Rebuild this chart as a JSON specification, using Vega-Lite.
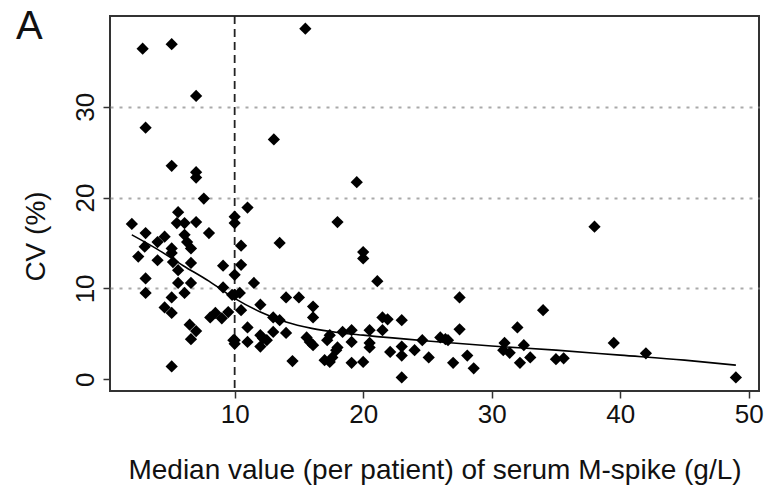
{
  "$schema": "https://vega.github.io/schema/vega-lite/v6.json",
  "width": 649,
  "height": 375,
  "autosize": "none",
  "padding": {"left": 110, "top": 16, "right": 6, "bottom": 96},
  "background": "white",
  "config": {
    "font": "Liberation Sans",
    "view": {"stroke": "#333", "strokeWidth": 2}
  },
  "title": {
    "text": "A",
    "anchor": "start",
    "frame": "group",
    "fontSize": 40,
    "fontWeight": "normal",
    "color": "#111",
    "baseline": "alphabetic",
    "offset": -64,
    "dx": -94
  },
  "datasets": {
    "pts": [
      {"x":2.0,"y":17.1},{"x":2.84,"y":36.4},{"x":5.1,"y":36.9},{"x":3.07,"y":27.7},{"x":7.0,"y":31.2},{"x":5.1,"y":23.5},{"x":7.0,"y":22.8},{"x":7.0,"y":22.2},{"x":7.6,"y":19.9},{"x":3.07,"y":16.1},{"x":3.0,"y":14.6},{"x":2.5,"y":13.5},{"x":3.07,"y":11.1},{"x":3.07,"y":9.5},{"x":4.0,"y":15.1},{"x":4.55,"y":15.7},{"x":4.0,"y":13.1},{"x":5.1,"y":14.4},{"x":5.1,"y":13.9},{"x":5.2,"y":12.9},{"x":5.6,"y":12.0},{"x":5.6,"y":10.6},{"x":5.1,"y":9.0},{"x":4.55,"y":7.9},{"x":5.1,"y":7.3},{"x":5.6,"y":18.4},{"x":5.5,"y":17.2},{"x":6.1,"y":17.2},{"x":7.0,"y":17.3},{"x":6.1,"y":15.9},{"x":6.3,"y":15.1},{"x":6.6,"y":14.4},{"x":8.0,"y":16.1},{"x":6.6,"y":12.8},{"x":6.6,"y":10.6},{"x":6.1,"y":9.5},{"x":6.5,"y":6.0},{"x":7.0,"y":5.3},{"x":6.6,"y":4.4},{"x":5.1,"y":1.4},{"x":9.1,"y":12.5},{"x":9.1,"y":10.1},{"x":8.1,"y":6.8},{"x":8.5,"y":7.3},{"x":9.0,"y":6.7},{"x":9.5,"y":7.4},{"x":9.8,"y":9.3},{"x":9.9,"y":4.3},
      {"x":10.0,"y":17.9},{"x":10.0,"y":17.2},{"x":11.0,"y":18.9},{"x":10.5,"y":14.7},{"x":10.5,"y":12.6},{"x":10.0,"y":11.5},{"x":11.5,"y":10.6},{"x":10.4,"y":9.5},{"x":10.0,"y":9.3},{"x":10.5,"y":7.6},{"x":10.0,"y":4.3},{"x":10.0,"y":3.9},{"x":11.0,"y":4.1},{"x":11.0,"y":5.7},{"x":12.0,"y":8.2},{"x":13.0,"y":6.8},{"x":13.5,"y":6.5},{"x":13.0,"y":5.2},{"x":12.0,"y":4.85},{"x":12.5,"y":4.3},{"x":12.0,"y":3.6},{"x":12.2,"y":4.5},{"x":14.0,"y":5.1},{"x":14.5,"y":2.0},{"x":13.5,"y":15.0},{"x":13.05,"y":26.4},{"x":15.5,"y":38.6},{"x":14.0,"y":9.0},{"x":15.0,"y":9.0},{"x":16.1,"y":8.0},{"x":16.1,"y":6.8},{"x":15.6,"y":4.6},{"x":16.1,"y":3.75},{"x":15.85,"y":4.1},{"x":17.2,"y":4.3},{"x":17.4,"y":4.85},{"x":17.0,"y":2.1},{"x":17.4,"y":1.9},{"x":17.6,"y":2.4},{"x":17.9,"y":3.2},{"x":18.0,"y":3.5},{"x":18.0,"y":17.3},{"x":18.4,"y":5.2},{"x":19.1,"y":5.4},{"x":19.1,"y":4.1},{"x":19.1,"y":1.8},{"x":20.0,"y":1.9},{"x":19.5,"y":21.7},{"x":20.0,"y":14.0},{"x":20.0,"y":13.3},{"x":20.5,"y":5.4},{"x":20.5,"y":4.0},{"x":20.5,"y":3.5},{"x":21.1,"y":10.8},{"x":21.5,"y":6.8},{"x":21.9,"y":6.6},{"x":21.5,"y":5.4},{"x":23.0,"y":6.5},{"x":22.1,"y":3.0},{"x":23.0,"y":3.6},{"x":23.0,"y":2.6},{"x":23.0,"y":0.2},{"x":24.0,"y":3.2},{"x":24.6,"y":4.3},{"x":25.1,"y":2.4},{"x":26.0,"y":4.6},{"x":26.4,"y":4.4},{"x":26.6,"y":4.3},{"x":27.5,"y":5.5},{"x":27.5,"y":9.0},{"x":27.0,"y":1.8},{"x":28.1,"y":2.6},{"x":28.6,"y":1.2},{"x":31.0,"y":4.0},{"x":30.9,"y":3.2},{"x":31.4,"y":2.9},{"x":32.0,"y":5.7},{"x":34.0,"y":7.6},{"x":32.5,"y":3.75},{"x":33.0,"y":2.4},{"x":32.2,"y":1.8},{"x":35.0,"y":2.2},{"x":35.6,"y":2.3},{"x":38.0,"y":16.8},{"x":39.5,"y":4.0},{"x":42.0,"y":2.85},{"x":49.0,"y":0.2}
    ],
    "lowess": [
      {"x":2.0,"y":15.9},{"x":4.0,"y":14.3},{"x":6.0,"y":12.5},{"x":8.0,"y":10.8},{"x":10.0,"y":8.9},{"x":12.0,"y":7.4},{"x":14.0,"y":6.3},{"x":16.0,"y":5.6},{"x":18.0,"y":5.15},{"x":20.0,"y":4.85},{"x":25.0,"y":4.2},{"x":30.0,"y":3.65},{"x":35.0,"y":3.2},{"x":40.0,"y":2.65},{"x":45.0,"y":2.1},{"x":49.0,"y":1.55}
    ],
    "ref": [{"x": 10}]
  },
  "layer": [
    {
      "data": {"name": "ref"},
      "mark": {"type": "rule", "stroke": "#222", "strokeWidth": 1.8, "strokeDash": [8, 5]},
      "encoding": {
        "x": {"field": "x", "type": "quantitative", "scale": {"domain": [0.3, 50.8], "nice": false, "zero": false}}
      }
    },
    {
      "data": {"name": "pts"},
      "mark": {"type": "point", "shape": "diamond", "filled": true, "color": "#000", "opacity": 1, "size": 150},
      "encoding": {
        "x": {
          "field": "x", "type": "quantitative",
          "scale": {"domain": [0.3, 50.8], "nice": false, "zero": false},
          "axis": {
            "values": [10, 20, 30, 40, 50],
            "title": "Median value (per patient) of serum M-spike (g/L)",
            "grid": false, "domain": false,
            "tickSize": 7, "tickColor": "#333", "tickWidth": 1.5,
            "labelFontSize": 26, "labelColor": "#111", "labelPadding": 3, "labelFlush": false,
            "labelBaseline": "top",
            "titleFontSize": 28, "titleFontWeight": "normal", "titleColor": "#111",
            "titleY": 87, "titleBaseline": "alphabetic"
          }
        },
        "y": {
          "field": "y", "type": "quantitative",
          "scale": {"domain": [-1.3, 40], "nice": false, "zero": false},
          "axis": {
            "values": [0, 10, 20, 30],
            "title": "CV (%)",
            "grid": true, "gridColor": "#aaaaaa", "gridDash": [3, 6], "gridWidth": 1.8,
            "gridOpacity": {"condition": {"test": "datum.value === 0", "value": 0}, "value": 1},
            "domain": false,
            "tickSize": 7, "tickColor": "#333", "tickWidth": 1.5,
            "labelAngle": -90, "labelAlign": "center", "labelBaseline": "alphabetic",
            "labelFontSize": 26, "labelColor": "#111", "labelPadding": 10,
            "titleFontSize": 28, "titleFontWeight": "normal", "titleColor": "#111",
            "titleAngle": -90, "titleAlign": "center", "titleBaseline": "middle",
            "titleX": -74, "titleY": 220
          }
        }
      }
    },
    {
      "data": {"name": "lowess"},
      "mark": {"type": "line", "color": "#000", "strokeWidth": 1.6, "interpolate": "monotone"},
      "encoding": {
        "x": {"field": "x", "type": "quantitative", "scale": {"domain": [0.3, 50.8], "nice": false, "zero": false}},
        "y": {"field": "y", "type": "quantitative", "scale": {"domain": [-1.3, 40], "nice": false, "zero": false}}
      }
    }
  ]
}
